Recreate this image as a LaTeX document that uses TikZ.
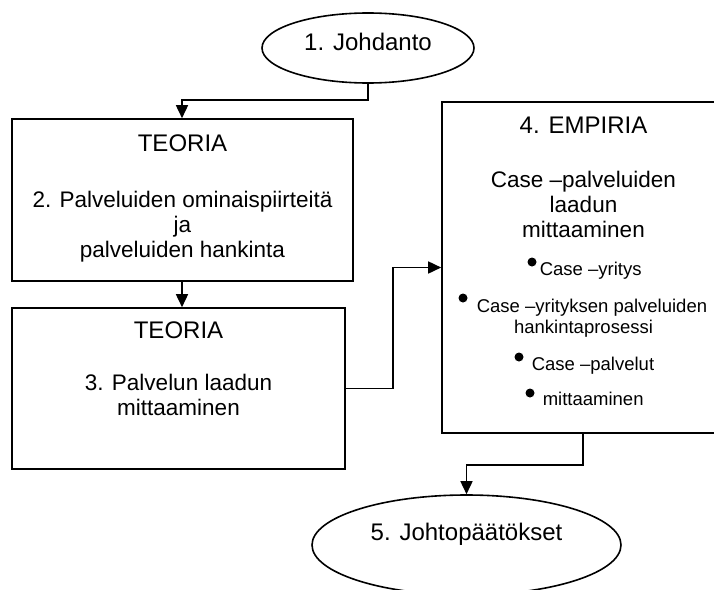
\documentclass[tikz,border=0pt]{standalone}
\usepackage{fontspec}
\setmainfont{Liberation Sans}
\usetikzlibrary{shapes.geometric,arrows.meta}
\begin{document}
\begin{tikzpicture}[x=1pt,y=-1pt,
  line width=1.6pt,
  box/.style={draw, rectangle, inner sep=0pt},
  oval/.style={draw, ellipse, inner sep=0pt},
  lbl/.style={anchor=base, inner sep=0pt},
  title/.style={lbl, font=\fontsize{24}{28}\selectfont},
  body/.style={lbl, font=\fontsize{22.5}{27}\selectfont},
  small/.style={lbl, font=\fontsize{18.5}{22}\selectfont},
  item/.style={small, anchor=base west},
  dot/.style={circle, fill, inner sep=0pt, minimum size=9pt},
  arr/.style={-{Triangle[length=13pt,width=12pt]}}]
\useasboundingbox (0,0) rectangle (714,589);
\clip (0,0) rectangle (714,589);

% shapes
\node[oval, minimum width=212pt, minimum height=70pt] (e1) at (368,48) {};
\node[box, minimum width=341pt, minimum height=162pt] (b1) at (182.5,200) {};
\node[box, minimum width=333pt, minimum height=161pt] (b2) at (178.5,388.5) {};
\node[box, minimum width=282pt, minimum height=331pt] (b3) at (583,267.5) {};
\node[oval, minimum width=309pt, minimum height=100pt] (e2) at (466.5,545) {};

% texts
\node[title] (t1) at (368,50) {1. Johdanto};

\node[title] (t2a) at (182.5,151) {TEORIA};
\node[body] (t2b) at (182.5,207) {2. Palveluiden ominaispiirteitä};
\node[body] (t2c) at (182.5,232) {ja};
\node[body] (t2d) at (182.5,257) {palveluiden hankinta};

\node[title] (t3a) at (178.5,338) {TEORIA};
\node[body] (t3b) at (178.5,390) {3. Palvelun laadun};
\node[body] (t3c) at (178.5,415) {mittaaminen};

\node[title] (t4a) at (583.5,133) {4. EMPIRIA};
\node[body] (t4b) at (583.5,187) {Case –palveluiden};
\node[body] (t4c) at (583.5,212) {laadun};
\node[body] (t4d) at (583.5,237) {mittaaminen};

% bullet list
\node[dot] (d1) at (532,262) {};
\node[item] (t4e) at (539,275) {Case –yritys};
\node[dot] (d2) at (463,298) {};
\node[item] (t4f) at (476,312) {Case –yrityksen palveluiden};
\node[small] (t4g) at (583.5,333) {hankintaprosessi};
\node[dot] (d3) at (519,357) {};
\node[item] (t4h) at (531,370) {Case –palvelut};
\node[dot] (d4) at (530,393) {};
\node[item] (t4i) at (542,405) {mittaaminen};

\node[title] (t5) at (466.5,540) {5. Johtopäätökset};

% connectors
\draw[arr] (e1.south) -- (e1.south |- 0,100) -| (b1.north -| 182,0);
\draw[arr] (b1.south -| 182,0) -- (b2.north -| 182,0);
\coordinate (m23) at (393,388.5);
\draw[arr] (b2.east) -- (m23) |- (b3.west);
\draw[arr] (b3.south) -- (b3.south |- 0,465) -| (e2.north);
\end{tikzpicture}
\end{document}
